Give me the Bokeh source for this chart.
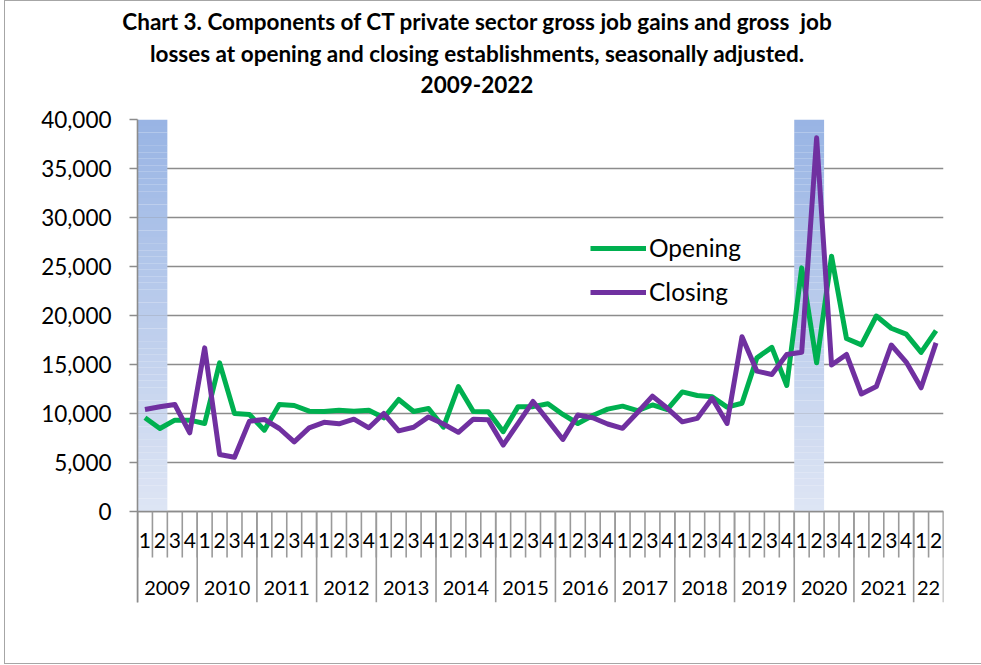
from bokeh.plotting import figure
from bokeh.models import Range1d, FixedTicker, NumeralTickFormatter, Legend, LegendItem, Div
from bokeh.layouts import column
from bokeh.core.properties import value
from bokeh.embed import file_html
from bokeh.resources import INLINE

# ---------------- data ----------------
years = ["2009", "2010", "2011", "2012", "2013", "2014", "2015",
         "2016", "2017", "2018", "2019", "2020", "2021", "22"]
quarters_per_year = [4, 4, 4, 4, 4, 4, 4, 4, 4, 4, 4, 4, 4, 2]

opening = [9560, 8470, 9320, 9320, 8980, 15170, 10000, 9900, 8300, 10920, 10820, 10240,
           10200, 10340, 10240, 10340, 9560, 11430, 10200, 10510, 8600, 12750, 10200, 10170,
           8150, 10700, 10700, 11000, 9900, 8980, 9800, 10450, 10750, 10300, 10870, 10410,
           12200, 11840, 11700, 10650, 11050, 15680, 16750, 12860, 24860, 15170, 26050, 17650,
           17000, 19950, 18700, 18100, 16230, 18450]
closing = [10410, 10680, 10920, 8030, 16700, 5820, 5540, 9220, 9390, 8470, 7110, 8540,
           9100, 8950, 9420, 8540, 10000, 8230, 8600, 9650, 8930, 8080, 9420, 9350,
           6780, 9000, 11230, 9300, 7350, 9850, 9560, 8930, 8490, 10100, 11770, 10530,
           9150, 9500, 11550, 8980, 17830, 14320, 13980, 16020, 16240, 38130, 14950, 16020,
           11990, 12750, 16990, 15250, 12620, 17210]

# shaded recession periods: (year label, first quarter, number of quarters)
recessions = [("2009", 1, 2), ("2020", 1, 2)]

y_ticks = [0, 5000, 10000, 15000, 20000, 25000, 30000, 35000, 40000]

# ---------------- derived positions ----------------
quarter_labels = []
year_start = []
pos = 0
for n in quarters_per_year:
    year_start.append(pos)
    quarter_labels += [str(q + 1) for q in range(n)]
    pos += n
n_q = pos
xs = [i + 0.5 for i in range(n_q)]
year_centers = [s + n / 2 for s, n in zip(year_start, quarters_per_year)]
year_bounds = year_start + [n_q]

PX = 40000 / 392.0          # data units per pixel (vertical)
y_min = -91 * PX            # room for the two-level category axis
q_depth = -46 * PX
q_label_y = -29 * PX
y_label_y = -76 * PX

GRID = "#8c8c8c"
FONT = "Lato"

p = figure(width=976, height=563, output_backend="svg", toolbar_location=None,
           x_range=Range1d(0, n_q), y_range=Range1d(y_min, 40000),
           x_axis_location=None, min_border_left=132, min_border_right=38,
           min_border_top=19, min_border_bottom=61)
p.outline_line_color = None
p.background_fill_color = "white"
p.border_fill_color = "white"

# grid
p.xgrid.visible = False
p.ygrid.ticker = FixedTicker(ticks=y_ticks)
p.ygrid.grid_line_color = GRID
p.ygrid.grid_line_width = 1.6

# y axis
ax = p.yaxis[0]
ax.ticker = FixedTicker(ticks=y_ticks)
ax.formatter = NumeralTickFormatter(format="0,0")
ax.axis_line_color = GRID
ax.axis_line_width = 1.6
ax.major_tick_line_color = GRID
ax.major_tick_line_width = 1.6
ax.major_tick_out = 8
ax.major_tick_in = 0
ax.minor_tick_line_color = None
ax.major_label_standoff = 18
ax.major_label_text_font = FONT
ax.major_label_text_font_size = "22.5px"
ax.major_label_text_color = "black"

# recession shading with vertical gradient
top_rgb = (152, 180, 228)
bot_rgb = (222, 229, 244)
N = 60
for (yr, q0, nq) in recessions:
    left = year_start[years.index(yr)] + q0 - 1
    right = left + nq
    lefts, rights, bottoms, tops, cols = [], [], [], [], []
    for k in range(N):
        t = (k + 0.5) / N
        r = round(bot_rgb[0] + (top_rgb[0] - bot_rgb[0]) * t)
        g = round(bot_rgb[1] + (top_rgb[1] - bot_rgb[1]) * t)
        b = round(bot_rgb[2] + (top_rgb[2] - bot_rgb[2]) * t)
        lefts.append(left)
        rights.append(right)
        bottoms.append(40000 * k / N)
        tops.append(40000 * (k + 1) / N + 1)
        cols.append("#%02x%02x%02x" % (r, g, b))
    p.quad(left=lefts, right=rights, bottom=bottoms, top=tops,
           fill_color=cols, line_color=None)

# baseline (value 0) redrawn on top of shading
p.segment(x0=[0], y0=[0], x1=[n_q], y1=[0], line_color=GRID, line_width=1.6)

# category axis separators
qb = list(range(n_q + 1))
p.segment(x0=qb, y0=[0] * len(qb), x1=qb, y1=[q_depth] * len(qb),
          line_color="#9a9a9a", line_width=1.6)
p.segment(x0=year_bounds, y0=[0] * len(year_bounds), x1=year_bounds,
          y1=[y_min] * len(year_bounds), line_color="#9a9a9a", line_width=1.6)

p.text(x=xs, y=[q_label_y] * n_q, text=quarter_labels, text_font=value(FONT),
       text_font_size="21px", text_align="center", text_baseline="middle",
       text_color="black")
p.text(x=year_centers, y=[y_label_y] * len(years), text=years, text_font=value(FONT),
       text_font_size="20px", text_align="center", text_baseline="middle",
       text_color="black")

# series
r_open = p.line(xs, opening, line_color="#00b050", line_width=5, line_join="round")
r_close = p.line(xs, closing, line_color="#7030a0", line_width=5, line_join="round")

legend = Legend(items=[LegendItem(label="Opening", renderers=[r_open]),
                       LegendItem(label="Closing", renderers=[r_close])],
                location=(453, 296), orientation="vertical")
legend.background_fill_alpha = 0
legend.border_line_color = None
legend.padding = 0
legend.margin = 0
legend.spacing = 15
legend.glyph_width = 56
legend.glyph_height = 28
legend.label_height = 28
legend.label_standoff = 3
legend.label_text_font = FONT
legend.label_text_font_size = "24.5px"
legend.label_text_color = "black"
p.add_layout(legend)

title = Div(text="Chart 3. Components of CT private sector gross job gains and gross&nbsp; job<br>"
                 "losses at opening and closing establishments, seasonally adjusted.<br>"
                 "2009-2022",
            width=934, height=89,
            styles={"font-family": "Lato", "font-weight": "bold", "font-size": "22.5px",
                    "line-height": "31.5px", "text-align": "center", "color": "black"})

layout = column(title, p, spacing=0,
                styles={"border": "1px solid #a6a6a6", "margin-left": "4px",
                        "background-color": "white"})

open("out.html", "w").write(file_html(layout, INLINE))
